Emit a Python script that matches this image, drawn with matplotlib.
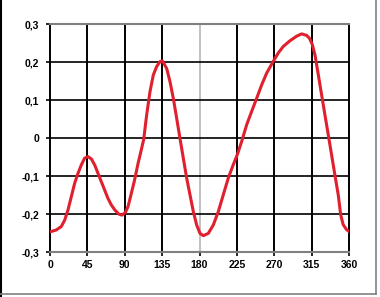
import matplotlib
matplotlib.use("Agg")
import matplotlib.pyplot as plt
from matplotlib.lines import Line2D

# Data
angle_deg = [0, 7.6, 13.6, 17.7, 21.7, 25.7, 29.7, 33.7, 37.7, 41.7, 45.7,
             49.8, 53.8, 57.8, 61.8, 65.8, 69.8, 73.8, 77.9, 82.7, 86.7, 90.7,
             93.9, 97.9, 101.9, 106, 109.5, 112.8, 116.4, 120.4, 124.4, 128.4,
             132.4, 135.3, 140.5, 144.5, 148.5, 152.5, 156.5, 160.5, 164.6,
             168.6, 172.6, 176.6, 180.6, 184.6, 190.6, 196.6, 202.6, 208.7,
             214.7, 220.7, 225.5, 230.8, 236.8, 242.8, 248.9, 254.9, 260.9,
             268.9, 274.9, 280.9, 289, 297, 303, 309, 312.5, 315.8, 319, 323,
             327, 331, 335, 339, 343, 347, 350, 353, 357, 360]
value = [-0.247, -0.242, -0.233, -0.216, -0.189, -0.154, -0.119, -0.093,
         -0.071, -0.053, -0.049, -0.055, -0.071, -0.093, -0.115, -0.137,
         -0.159, -0.176, -0.189, -0.2, -0.203, -0.196, -0.181, -0.146, -0.11,
         -0.067, -0.035, -0.004, 0.061, 0.122, 0.166, 0.188, 0.201, 0.203,
         0.183, 0.148, 0.104, 0.052, -0.001, -0.053, -0.106, -0.15, -0.194,
         -0.229, -0.251, -0.257, -0.251, -0.229, -0.194, -0.149, -0.105,
         -0.07, -0.044, -0.009, 0.035, 0.07, 0.105, 0.14, 0.171, 0.202, 0.224,
         0.241, 0.256, 0.268, 0.274, 0.27, 0.262, 0.246, 0.219, 0.167, 0.114,
         0.061, 0.009, -0.044, -0.097, -0.149, -0.202, -0.228, -0.241, -0.246]

x_ticks = [0, 45, 90, 135, 180, 225, 270, 315, 360]
y_ticks = [-0.3, -0.2, -0.1, 0, 0.1, 0.2, 0.3]
y_labels = ["-0,3", "-0,2", "-0,1", "0", "0,1", "0,2", "0,3"]

plt.rcParams['font.family'] = ['Liberation Sans', 'DejaVu Sans']

fig = plt.figure(figsize=(3.8, 2.97), dpi=100)
ax = fig.add_axes([50/380, 1-252/297, 299/380, 228/297])
ax.set_xlim(0, 360)
ax.set_ylim(-0.3, 0.3)

# grid lines
for xv in x_ticks[1:-1]:
    c = '#c0c0c0' if xv == 180 else 'black'
    ax.axvline(xv, color=c, lw=1.4, zorder=1)
for yv in y_ticks[1:-1]:
    ax.axhline(yv, color='black', lw=1.2, zorder=1)

for s in ['top', 'bottom']:
    ax.spines[s].set_color('#808080')
    ax.spines[s].set_linewidth(1.5)
for s in ['left', 'right']:
    ax.spines[s].set_color('black')
    ax.spines[s].set_linewidth(1.4)

ax.plot(angle_deg, value, color='#e0202e', lw=2.2, zorder=3,
        solid_capstyle='round', solid_joinstyle='round')

ax.set_xticks(x_ticks)
ax.set_xticklabels([str(v) for v in x_ticks])
ax.set_yticks(y_ticks)
ax.set_yticklabels(y_labels)
ax.tick_params(axis='both', direction='out', length=3, width=1.2, color='black',
               labelsize=7.5)
ax.tick_params(axis='y', pad=5)
ax.tick_params(axis='x', pad=3)
for lab in ax.get_xticklabels() + ax.get_yticklabels():
    lab.set_fontweight('bold')

# figure border (screenshot frame)
fig.add_artist(Line2D([1/380, 1/380], [0, 1], color='black', lw=1.5, transform=fig.transFigure))
fig.add_artist(Line2D([0, 376/380], [1-294/297, 1-294/297], color='#808080', lw=1.2, transform=fig.transFigure))
fig.add_artist(Line2D([375.5/380, 375.5/380], [1-294/297, 1], color='#808080', lw=1.2, transform=fig.transFigure))

fig.savefig("out.png", dpi=100)
